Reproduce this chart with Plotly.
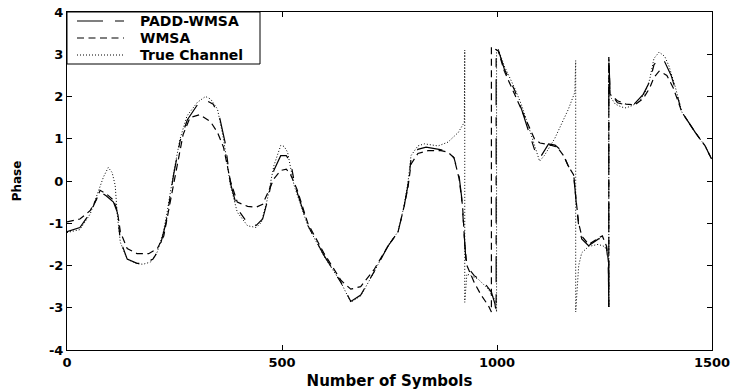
import plotly.graph_objects as go

# Phase trajectories versus symbol index (wrapped to [-pi, pi])
true_x = [0, 30, 54, 70, 85, 96, 105, 112, 117, 124, 140, 163, 177, 194, 210, 224, 233, 248, 263, 279,
          303, 322, 334, 350, 364, 380, 396, 420, 440, 452, 466, 481, 497, 505, 513, 528, 560, 597, 637, 660,
          683, 714, 746, 770, 784, 793, 800, 816, 831, 863, 886, 910, 924, 925, 925, 930, 956, 980, 997, 999,
          999, 1003, 1017, 1041, 1057, 1073, 1087, 1099, 1110, 1134, 1166, 1181, 1183, 1183, 1190, 1197, 1213,
          1235, 1250, 1259, 1260, 1260, 1262, 1275, 1290, 1300, 1313, 1330, 1345, 1355, 1365, 1377, 1390, 1400,
          1414, 1430, 1461, 1484, 1500]
true_y = [-1.22, -1.15, -0.78, -0.35, 0.1, 0.32, 0.2, -0.1, -0.8, -1.45, -1.85, -1.96, -1.97, -1.92, -1.68,
          -1.21, -0.73, 0.2, 1.0, 1.54, 1.86, 2.0, 1.94, 1.7, 1.0, -0.1, -0.74, -1.06, -1.1, -0.98, -0.43, 0.36,
          0.84, 0.82, 0.68, -0.1, -1.06, -1.77, -2.4, -2.87, -2.72, -2.16, -1.53, -1.2, -0.58, -0.03, 0.6, 0.83,
          0.88, 0.83, 0.92, 1.15, 1.39, 3.1, -2.87, -2.2, -2.32, -2.56, -2.85, -3.1, 3.12, 3.12, 2.72, 2.2, 1.8,
          1.3, 0.83, 0.47, 0.6, 1.0, 1.7, 2.1, 2.85, -3.1, -2.0, -1.7, -1.55, -1.5, -1.55, -1.7, -2.98, 2.93,
          2.02, 1.82, 1.75, 1.73, 1.78, 1.87, 2.1, 2.4, 2.9, 3.05, 2.95, 2.72, 2.25, 1.63, 1.15, 0.83, 0.5]

padd_x = [0, 30, 54, 70, 77, 91, 108, 117, 124, 140, 163, 180, 200, 215, 230, 248, 263, 280, 303, 325, 340,
          355, 368, 380, 396, 420, 440, 455, 468, 481, 497, 510, 520, 530, 560, 597, 637, 660, 683, 714, 746,
          770, 784, 793, 800, 816, 835, 865, 886, 900, 912, 918, 924, 928, 935, 947, 970, 987, 995, 998, 998,
          1003, 1017, 1041, 1057, 1073, 1087, 1100, 1110, 1120, 1135, 1150, 1166, 1178, 1185, 1190, 1197, 1213,
          1236, 1245, 1255, 1259, 1260, 1260, 1263, 1280, 1300, 1320, 1340, 1355, 1365, 1377, 1390, 1405, 1414,
          1430, 1461, 1484, 1500]
padd_y = [-1.2, -1.1, -0.75, -0.4, -0.25, -0.35, -0.5, -0.74, -1.4, -1.85, -1.95, -1.95, -1.85, -1.6, -1.0,
          0.15, 0.95, 1.45, 1.8, 1.9, 1.82, 1.5, 0.9, -0.05, -0.65, -1.0, -1.05, -0.9, -0.4, 0.25, 0.6, 0.6,
          0.45, -0.1, -1.05, -1.75, -2.4, -2.85, -2.7, -2.15, -1.55, -1.2, -0.6, -0.1, 0.5, 0.75, 0.8, 0.75, 0.7,
          0.55, 0.1, -0.4, -1.2, -1.92, -2.08, -2.24, -2.4, -2.63, -2.9, -3.1, 3.12, 3.1, 2.65, 2.15, 1.7, 1.2,
          0.75, 0.55, 0.7, 0.88, 0.85, 0.72, 0.35, 0.2, -0.6, -1.06, -1.37, -1.53, -1.37, -1.35, -1.6, -2.0,
          -2.98, 2.93, 2.1, 1.85, 1.8, 1.83, 2.05, 2.35, 2.75, 2.9, 2.82, 2.5, 2.2, 1.63, 1.15, 0.83, 0.5]

wmsa_x = [0, 30, 54, 70, 77, 91, 108, 117, 124, 140, 163, 190, 210, 225, 240, 255, 270, 286, 309, 334, 350,
          364, 380, 396, 420, 440, 455, 466, 481, 497, 510, 520, 535, 560, 597, 637, 660, 683, 714, 746, 770,
          784, 793, 800, 816, 840, 870, 886, 900, 912, 920, 925, 930, 947, 963, 980, 987, 987, 995, 1003, 1017,
          1041, 1057, 1073, 1087, 1100, 1115, 1125, 1140, 1155, 1166, 1178, 1185, 1190, 1197, 1213, 1236, 1245,
          1255, 1259, 1260, 1260, 1263, 1280, 1300, 1320, 1340, 1355, 1365, 1377, 1395, 1410, 1430, 1461, 1484,
          1500]
wmsa_y = [-0.97, -0.9, -0.7, -0.4, -0.22, -0.3, -0.45, -0.7, -1.2, -1.6, -1.72, -1.72, -1.6, -1.3, -0.5, 0.3,
          1.1, 1.5, 1.57, 1.4, 1.15, 0.8, 0.0, -0.5, -0.6, -0.62, -0.55, -0.3, 0.05, 0.25, 0.28, 0.15, -0.2,
          -1.0, -1.7, -2.35, -2.56, -2.5, -2.1, -1.55, -1.2, -0.6, -0.15, 0.4, 0.65, 0.72, 0.72, 0.68, 0.55,
          0.05, -0.6, -1.5, -2.0, -2.4, -2.7, -2.95, -3.1, 3.17, 3.12, 3.08, 2.6, 2.05, 1.7, 1.3, 1.0, 0.9, 0.88,
          0.85, 0.8, 0.6, 0.35, 0.15, -0.55, -1.0, -1.3, -1.5, -1.35, -1.3, -1.55, -1.9, -2.98, 2.93, 2.05, 1.9,
          1.82, 1.8, 1.95, 2.2, 2.45, 2.6, 2.5, 2.2, 1.63, 1.15, 0.83, 0.5]

series_names = ["PADD-WMSA", "WMSA", "True Channel"]

x_ticks = [0, 500, 1000, 1500]
x_tick_text = ["0", "500", "1000", "1500"]
y_ticks = [-4, -3, -2, -1, 0, 1, 2, 3, 4]
y_tick_text = ["-4", "-3", "-2", "-1", "0", "1", "2", "3", "4"]

# line styles: dash-dot, dashed, dotted
styles = [
    dict(color="black", width=1.2, dash="26px,12px,9px,12px"),
    dict(color="black", width=1.2, dash="7px,4.5px"),
    dict(color="black", width=1, dash="1px,2px"),
]

FONT = "DejaVu Sans"

fig = go.Figure()
for name, xs, ys, st in zip(series_names, [padd_x, wmsa_x, true_x], [padd_y, wmsa_y, true_y], styles):
    fig.add_trace(go.Scatter(x=xs, y=ys, mode="lines", name=name, line=st, showlegend=False))

axis_common = dict(showline=True, linecolor="black", linewidth=1, mirror="ticks", ticks="inside",
                   ticklen=5, tickcolor="black", showgrid=False, zeroline=False, automargin=False,
                   tickfont=dict(family=FONT, size=13, color="black", weight="bold"))

fig.update_xaxes(range=[0, 1500], tickmode="array", tickvals=x_ticks, ticktext=x_tick_text,
                 title=dict(text="Number of Symbols", standoff=6,
                            font=dict(family=FONT, size=15, color="black", weight="bold")),
                 **axis_common)
fig.update_yaxes(range=[-4, 4], tickmode="array", tickvals=y_ticks, ticktext=y_tick_text,
                 title=dict(text="Phase", standoff=24,
                            font=dict(family=FONT, size=12, color="black", weight="bold")),
                 **axis_common)

# Boxed legend in the upper-left corner of the axes (paper coordinates)
plot_l, plot_r, plot_t, plot_b = 67, 712, 12, 350
pw, ph = plot_r - plot_l, plot_b - plot_t


def px_x(p):
    return (p - plot_l) / pw


def px_y(p):
    return (plot_b - p) / ph


shapes = [dict(type="rect", xref="paper", yref="paper", x0=px_x(67), x1=px_x(260), y0=px_y(64), y1=px_y(12),
               line=dict(color="black", width=1), fillcolor="white", layer="above")]
annotations = []
for i, (name, st) in enumerate(zip(series_names, styles)):
    yc = 21 + i * 17
    shapes.append(dict(type="line", xref="paper", yref="paper", x0=px_x(77), x1=px_x(124),
                       y0=px_y(yc), y1=px_y(yc), line=st, layer="above"))
    annotations.append(dict(text=name, xref="paper", yref="paper", x=px_x(139), y=px_y(yc),
                            xanchor="left", yanchor="middle", showarrow=False, borderpad=0,
                            font=dict(family=FONT, size=14, color="black", weight="bold")))

fig.update_layout(
    width=734, height=390,
    margin=dict(l=plot_l, r=734 - plot_r, t=plot_t, b=390 - plot_b),
    paper_bgcolor="white", plot_bgcolor="white",
    showlegend=False,
    shapes=shapes, annotations=annotations,
)

fig.write_html("out.html")
